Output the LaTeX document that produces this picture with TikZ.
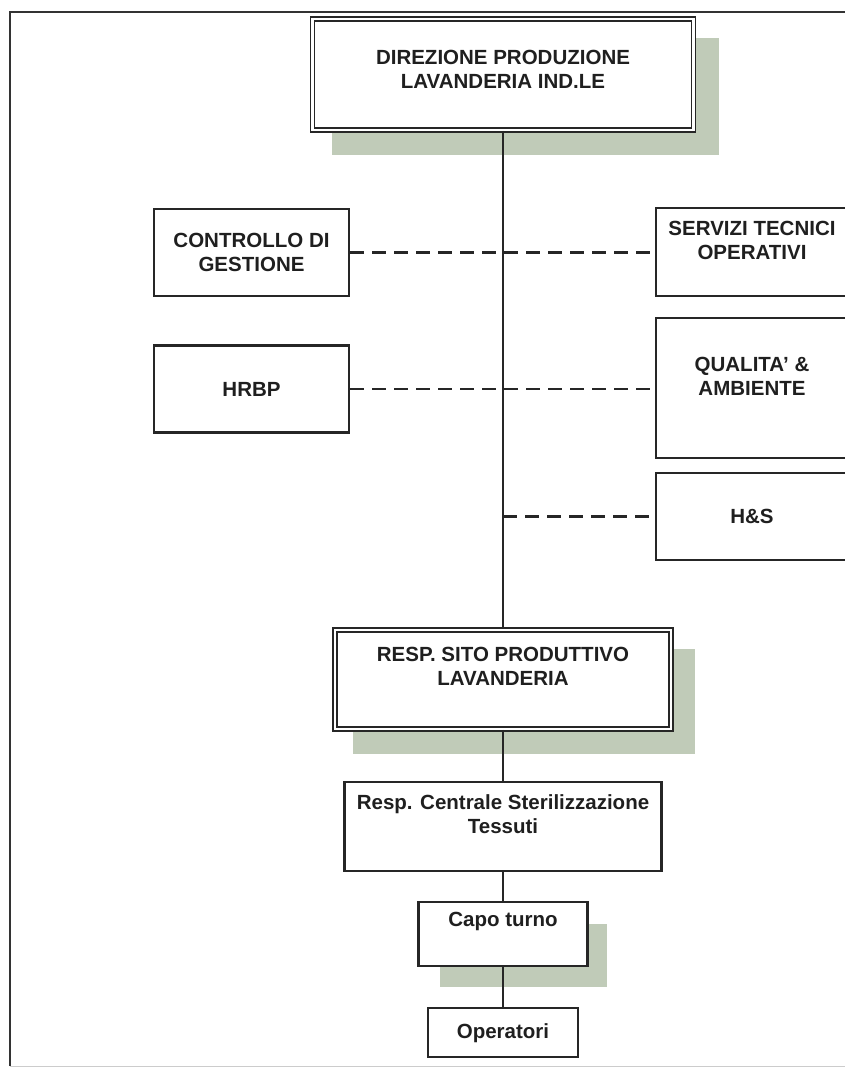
\documentclass[tikz,border=0pt]{standalone}
\usepackage{fontspec}
\setmainfont{Liberation Sans}
\begin{document}
\begin{tikzpicture}[x=1pt,y=-1pt,
  box/.style={draw=black!85, line width=2.2pt, fill=white, inner sep=0pt, minimum width=#1},
  box/.default=195pt,
  dbox/.style={draw=black!85, double=white, line width=1.6pt, double distance=2.6pt, fill=white, inner sep=0pt},
  shade/.style={fill={rgb,255:red,192;green,203;blue,184}},
  lbl/.style={font=\fontsize{20.5}{24}\selectfont\bfseries, text=black!88, align=center, inner sep=0pt},
  link/.style={draw=black!85, line width=1.9pt},
  dlink/.style={draw=black!85, line width=2.4pt, dash pattern=on 14pt off 8pt}
]
\useasboundingbox (0,0) rectangle (845,1073);
\clip (0,0) rectangle (845,1073);

% page frame
\draw[line width=2.4pt, black!80] (10,1066) -- (10,12) -- (860,12);
\draw[line width=1pt, black!20] (10,1066) -- (860,1066);

% drop shadows of the main boxes
\fill[shade] (332,38) rectangle (719,155);
\fill[shade] (353,649) rectangle (695,754);
\fill[shade] (440,924) rectangle (607,987);

% boxes
\node[dbox, minimum width=381pt, minimum height=111pt] (dir) at (503,74.5) {};
\node[box, minimum height=87pt] (ctrl) at (251.5,252.5) {};
\node[box, minimum height=87pt] (hrbp) at (251.5,389) {};
\node[box=194pt, minimum height=88pt] (serv) at (753,252) {};
\node[box=194pt, minimum height=140pt] (qual) at (753,388) {};
\node[box=194pt, minimum height=87pt] (hs) at (753,516.5) {};
\node[dbox, minimum width=336pt, minimum height=99pt] (site) at (503,679.5) {};
\node[box=317pt, minimum height=89pt] (cent) at (503,826.5) {};
\node[box=169pt, minimum height=64pt] (capo) at (503,934) {};
\node[box=150pt, minimum height=49pt] (oper) at (503,1032.5) {};

% solid reporting line
\draw[link] (dir.south) -- (site.north);
\draw[link] (site.south) -- (cent.north);
\draw[link] (cent.south) -- (capo.north);
\draw[link] (capo.south) -- (oper.north);

% dotted-line relations
\draw[dlink] (ctrl.east) -- (ctrl.east -| serv.west);
\draw[dlink] (hrbp.east) -- (hrbp.east -| qual.west);
\draw[dlink] (hs.west -| dir.south) -- (hs.west);

% labels
\node[lbl] (dir-t) at (503,69) {DIREZIONE PRODUZIONE\\LAVANDERIA IND.LE};
\node[lbl] (ctrl-t) at (251.5,252.5) {CONTROLLO DI\\GESTIONE};
\node[lbl] (hrbp-t) at (251.5,389) {HRBP};
\node[lbl] (serv-t) at (752,240) {SERVIZI TECNICI\\OPERATIVI};
\node[lbl] (qual-t) at (752,376) {QUALITA' \&\\AMBIENTE};
\node[lbl] (hs-t) at (752,516.5) {H\&S};
\node[lbl] (site-t) at (503,666) {RESP. SITO PRODUTTIVO\\LAVANDERIA};
\node[lbl] (cent-t) at (503,814.5) {Resp. Centrale Sterilizzazione\\Tessuti};
\node[lbl] (capo-t) at (503,921) {Capo turno};
\node[lbl] (oper-t) at (503,1033) {Operatori};
\end{tikzpicture}
\end{document}
